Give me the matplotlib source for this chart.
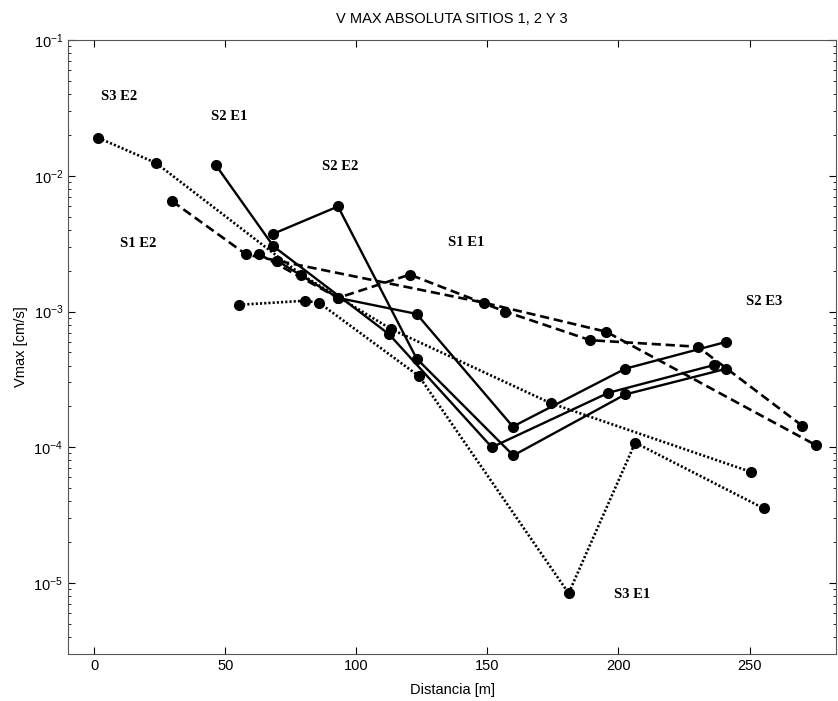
import matplotlib.pyplot as plt
from matplotlib.ticker import LogLocator, FixedLocator

plt.rcParams["font.family"] = ["Liberation Sans", "DejaVu Sans"]

# Site 2 (solid)
s2e1_x = [46.5, 68.4, 112.5, 151.7, 196.2, 236.4]
s2e1_y = [1.19e-2, 3.02e-3, 6.8e-4, 1.0e-4, 2.52e-4, 4.03e-4]
s2e2_x = [68.2, 93.0, 123.0, 159.9, 202.6, 241.2]
s2e2_y = [3.73e-3, 5.94e-3, 4.5e-4, 8.7e-5, 2.45e-4, 3.79e-4]
s2e3_x = [69.7, 93.0, 123.0, 159.7, 202.6, 241.2]
s2e3_y = [2.37e-3, 1.26e-3, 9.6e-4, 1.42e-4, 3.79e-4, 5.98e-4]

# Site 1 (dashed)
s1e1_x = [62.8, 93.0, 120.4, 156.7, 189.2, 230.3, 270.1]
s1e1_y = [2.65e-3, 1.26e-3, 1.87e-3, 1.0e-3, 6.15e-4, 5.5e-4, 1.44e-4]
s1e2_x = [29.7, 58.0, 69.7, 148.8, 195.3, 275.2]
s1e2_y = [6.5e-3, 2.63e-3, 2.37e-3, 1.16e-3, 7.1e-4, 1.04e-4]

# Site 3 (dotted)
s3e1_x = [55.2, 80.3, 85.8, 123.9, 181.0, 206.4, 255.5]
s3e1_y = [1.12e-3, 1.2e-3, 1.16e-3, 3.34e-4, 8.4e-6, 1.08e-4, 3.54e-5]
s3e2_x = [1.6, 23.6, 79.0, 113.4, 174.2, 250.4]
s3e2_y = [1.9e-2, 1.24e-2, 1.87e-3, 7.4e-4, 2.11e-4, 6.6e-5]

labels = ["S3 E2", "S2 E1", "S2 E2", "S1 E2", "S1 E1", "S2 E3", "S3 E1"]
label_x = [9.6, 51.6, 93.9, 16.6, 141.8, 255.5, 205.4]
label_y = [3.83e-2, 2.73e-2, 1.17e-2, 3.16e-3, 3.2e-3, 1.19e-3, 8.17e-6]

fig = plt.figure(figsize=(8.38, 7.01), dpi=100)
ax = fig.add_axes([68 / 838, 1 - 654 / 701, 768 / 838, 614 / 701])

common = dict(color="black", marker="o", markersize=7, markerfacecolor="black",
              markeredgecolor="black")
for xs, ys in [(s2e1_x, s2e1_y), (s2e2_x, s2e2_y), (s2e3_x, s2e3_y)]:
    ax.plot(xs, ys, linestyle="-", linewidth=1.7, **common)
for xs, ys in [(s1e1_x, s1e1_y), (s1e2_x, s1e2_y)]:
    ax.plot(xs, ys, linestyle=(0, (3.5, 1.8)), linewidth=1.9, **common)
for xs, ys in [(s3e1_x, s3e1_y), (s3e2_x, s3e2_y)]:
    ax.plot(xs, ys, linestyle=(0, (0.8, 0.8)), linewidth=1.9, **common)

for t, x, y in zip(labels, label_x, label_y):
    ax.text(x, y, t, ha="center", va="center", fontsize=10.5, fontweight="bold",
            family=["Liberation Serif", "DejaVu Serif"])

ax.set_yscale("log")
ax.set_xlim(-10, 283)
ax.set_ylim(3e-6, 1e-1)
ax.xaxis.set_major_locator(FixedLocator([0, 50, 100, 150, 200, 250]))
ax.yaxis.set_major_locator(LogLocator(base=10, numticks=10))
ax.yaxis.set_minor_locator(LogLocator(base=10, subs=range(2, 10), numticks=20))
ax.tick_params(which="both", direction="in", top=True, right=True, labelsize=10.5)
ax.tick_params(which="major", length=5, width=0.8)
ax.tick_params(which="minor", length=2.5, width=0.6)
for sp in ax.spines.values():
    sp.set_linewidth(0.8)
    sp.set_color("#555555")

ax.set_title("V MAX ABSOLUTA SITIOS 1, 2 Y 3", fontsize=10.5, pad=12)
ax.set_xlabel("Distancia [m]", fontsize=10.5, labelpad=7)
ax.set_ylabel("Vmax [cm/s]", fontsize=10.5, labelpad=4)

fig.savefig("out.png", dpi=100)
